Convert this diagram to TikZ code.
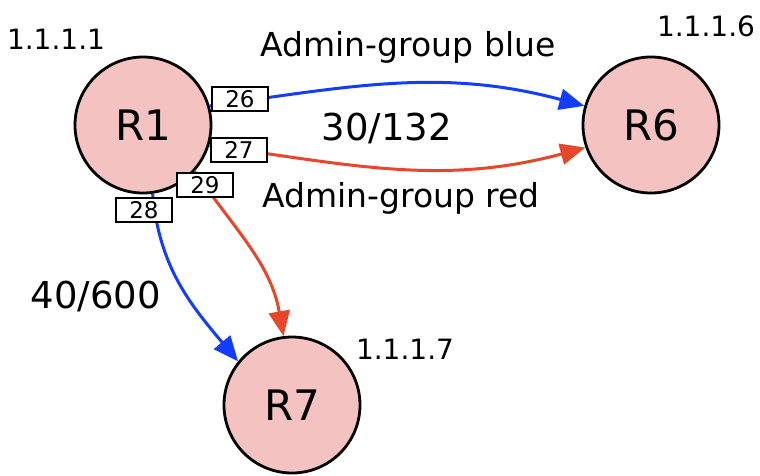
\documentclass[tikz,border=0pt]{standalone}
\usepackage{fontspec}
\setmainfont{DejaVu Sans}
\usetikzlibrary{arrows.meta}
\definecolor{lblue}{RGB}{20,60,255}
\definecolor{lred}{RGB}{232,70,42}
\definecolor{rpink}{RGB}{244,194,192}
\tikzset{
  router/.style={circle,draw=black,line width=2.8pt,fill=rpink,minimum size=136pt,inner sep=0pt,font=\fontsize{42}{44}\selectfont},
  port/.style={rectangle,draw=black,line width=2.4pt,fill=white,minimum width=56pt,minimum height=24pt,inner sep=0pt,font=\fontsize{23}{24}\selectfont},
  lbl/.style={inner sep=0pt,font=\fontsize{33}{35}\selectfont},
  ip/.style={inner sep=0pt,font=\fontsize{28}{30}\selectfont},
  num/.style={inner sep=0pt,font=\fontsize{37}{39}\selectfont},
  link/.style={line width=3pt,-{Triangle[length=25pt,width=21pt]}},
}
\begin{document}
\begin{tikzpicture}[x=1pt,y=1pt]
\useasboundingbox (0,0) rectangle (760,-475);
\node[router] (R1) at (143,-125) {R1};
\node[router] (R6) at (651,-125) {R6};
\node[router] (R7) at (292,-405) {R7};
\node[ip] (ip1) at (56,-39) {1.1.1.1};
\node[ip] (ip6) at (706,-26) {1.1.1.6};
\node[ip] (ip7) at (405,-349) {1.1.1.7};
\node[lbl] (agb) at (408,-47) {Admin-group blue};
\node[lbl] (agr) at (401,-198) {Admin-group red};
\node[num] (m1) at (387,-128) {30/132};
\node[num] (m2) at (96,-296) {40/600};
\draw[link,lblue] (R1.16) to[out=8,in=165] (R6.164);
\draw[link,lred] (R1.-17) to[out=-8,in=-165] (R6.-161);
\draw[link,lblue] (R1.-82) to[out=-85,in=130] (R7.141);
\draw[link,lred] (R1.-42) to[out=-55,in=100] (R7.97);
\node[port] (p26) at (240,-99) {26};
\node[port] (p27) at (239,-150) {27};
\node[port] (p29) at (205,-185) {29};
\node[port] (p28) at (144,-210) {28};
\end{tikzpicture}
\end{document}
